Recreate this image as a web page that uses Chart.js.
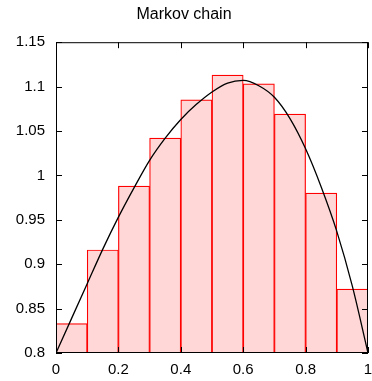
<!DOCTYPE html>
<html>
<head>
<meta charset="utf-8">
<script src="https://cdn.jsdelivr.net/npm/chart.js@4"></script>
<style>
  html, body { margin: 0; padding: 0; background: #fff; }
  #wrap { width: 372px; height: 381px; }
</style>
</head>
<body>
<div id="wrap"><canvas id="chart" width="372" height="381"></canvas></div>
<script>
// histogram bins (centers) and heights
const binCenters = [0.05, 0.15, 0.25, 0.35, 0.45, 0.55, 0.65, 0.75, 0.85, 0.95];
const binHeights = [0.833, 0.916, 0.988, 1.042, 1.085, 1.113, 1.103, 1.069, 0.980, 0.872];

// smooth curve
const curveX = [0, 0.05, 0.1, 0.15, 0.2, 0.25, 0.3, 0.35, 0.4, 0.45, 0.5,
                0.55, 0.6, 0.65, 0.7, 0.75, 0.8, 0.85, 0.9, 0.95, 1];
const curveY = [0.8, 0.839, 0.878, 0.917, 0.953, 0.986, 1.017, 1.042, 1.063, 1.080, 1.094,
                1.104, 1.107, 1.101, 1.088, 1.064, 1.030, 0.987, 0.937, 0.875, 0.8];

const xTicks = [0, 0.2, 0.4, 0.6, 0.8, 1];
const yTicks = [0.8, 0.85, 0.9, 0.95, 1, 1.05, 1.1, 1.15];

const FONT = "'Liberation Sans', Arial, sans-serif";

// gnuplot-like frame: box + inward ticks on all four sides
const frame = {
  id: "frame",
  afterDraw: (chart) => {
    const ctx = chart.ctx;
    const { left, top, right, bottom } = chart.chartArea;
    const xs = chart.scales.x, ys = chart.scales.y;
    const len = 6;
    ctx.save();
    ctx.strokeStyle = "#000";
    ctx.lineWidth = 1;
    ctx.beginPath();
    xTicks.forEach((v) => {
      const px = Math.round(xs.getPixelForValue(v)) + 0.5;
      ctx.moveTo(px, bottom); ctx.lineTo(px, bottom - len);
      ctx.moveTo(px, top); ctx.lineTo(px, top + len);
    });
    yTicks.forEach((v) => {
      const py = Math.round(ys.getPixelForValue(v)) + 0.5;
      ctx.moveTo(left, py); ctx.lineTo(left + len, py);
      ctx.moveTo(right, py); ctx.lineTo(right - len, py);
    });
    ctx.stroke();
    ctx.strokeRect(left + 0.5, top + 0.5, right - left - 1, bottom - top - 1);
    ctx.restore();
  },
};

const fmt = (v) => String(Number(v.toFixed(2)));

new Chart("chart", {
  type: "bar",
  data: {
    datasets: [
      {
        type: "line",
        data: curveX.map((x, i) => ({ x: x, y: curveY[i] })),
        borderColor: "#000",
        borderWidth: 1.3,
        pointRadius: 0,
        fill: false,
        tension: 0.4,
        cubicInterpolationMode: "monotone",
        order: 0,
      },
      {
        data: binCenters.map((x, i) => ({ x: x, y: binHeights[i] })),
        backgroundColor: "rgb(255,215,215)",
        borderColor: "rgb(255,0,0)",
        borderWidth: 1.2,
        barPercentage: 1,
        categoryPercentage: 1,
        order: 1,
      },
    ],
  },
  options: {
    responsive: false,
    animation: false,
    layout: { padding: { left: 0, right: 4, top: 0, bottom: 0 } },
    plugins: {
      legend: { display: false },
      tooltip: { enabled: false },
      title: {
        display: true,
        text: "Markov chain",
        color: "#000",
        font: { family: FONT, size: 16, weight: "normal", lineHeight: 1.2 },
        padding: { top: 5, bottom: 18 },
      },
    },
    scales: {
      x: {
        type: "linear",
        min: 0,
        max: 1,
        offset: false,
        grid: { display: false, drawTicks: false },
        border: { display: false },
        afterBuildTicks: (scale) => {
          scale.ticks = xTicks.map((v) => ({ value: v }));
        },
        afterFit: (scale) => {
          scale.height = 28;
          scale.paddingLeft = 0;
          scale.paddingRight = 0;
        },
        ticks: {
          color: "#000",
          padding: 8,
          maxRotation: 0,
          callback: fmt,
          font: { family: FONT, size: 15 },
        },
      },
      y: {
        min: 0.8,
        max: 1.15,
        grid: { display: false, drawTicks: false },
        border: { display: false },
        afterBuildTicks: (scale) => {
          scale.ticks = yTicks.map((v) => ({ value: v }));
        },
        afterFit: (scale) => { scale.width = 56; },
        ticks: {
          color: "#000",
          padding: 11,
          callback: fmt,
          font: { family: FONT, size: 15 },
        },
      },
    },
  },
  plugins: [frame],
});
</script>
</body>
</html>
